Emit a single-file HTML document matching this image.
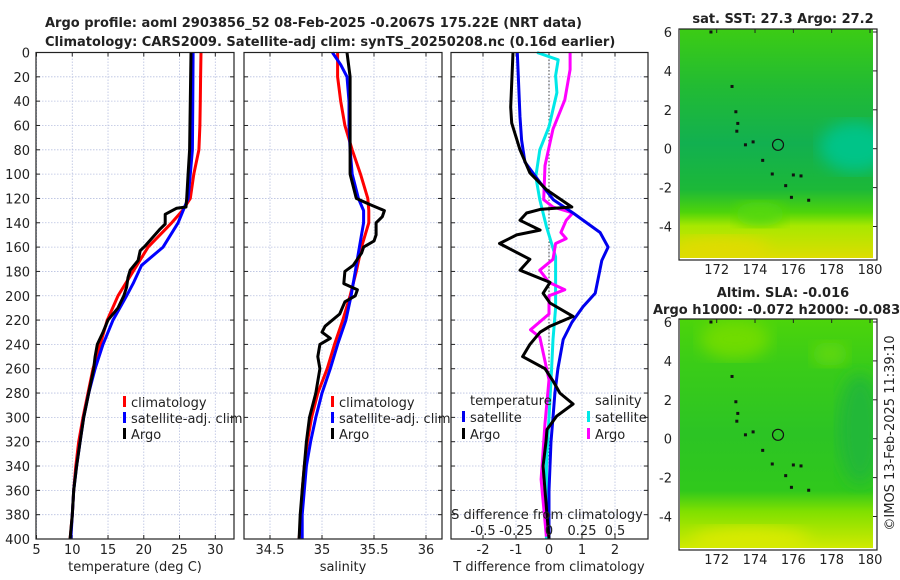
<!DOCTYPE html>
<html><head><meta charset="utf-8"><style>
body{margin:0;background:#fff;}
svg{display:block;font-family:"DejaVu Sans","Liberation Sans",sans-serif;}
</style></head><body>
<svg id="c" width="900" height="580" viewBox="0 0 900 580">
<defs>
<linearGradient id="sstg" x1="0" y1="0" x2="0" y2="1">
<stop offset="0" stop-color="#3ccc14"/><stop offset="0.25" stop-color="#22bb33"/><stop offset="0.5" stop-color="#12b050"/><stop offset="0.7" stop-color="#1cb838"/><stop offset="0.8" stop-color="#4ed40a"/><stop offset="0.86" stop-color="#a8e800"/><stop offset="1" stop-color="#dddd00"/>
</linearGradient>
<linearGradient id="slag" x1="0" y1="0" x2="0" y2="1">
<stop offset="0" stop-color="#4cd40a"/><stop offset="0.2" stop-color="#3acc18"/><stop offset="0.5" stop-color="#2cc424"/><stop offset="0.75" stop-color="#30c81c"/><stop offset="0.84" stop-color="#80e000"/><stop offset="1" stop-color="#d0ea00"/>
</linearGradient>
<filter id="bl"><feGaussianBlur stdDeviation="8"/></filter>
<clipPath id="m1"><rect x="680" y="29" width="193" height="229"/></clipPath>
<clipPath id="m2"><rect x="680" y="319" width="193" height="229"/></clipPath>
</defs>
<g id="g"></g>
</svg>
<script>
// ---------- data ----------
const climDepth=[0,20,40,60,80,100,120,130,140,160,180,200,220,240,260,280,300,320,340,360,380,400];
const climT=[28.0,27.95,27.9,27.85,27.7,27.0,26.5,25.4,23.9,20.6,18.5,16.4,14.9,13.9,12.9,12.2,11.5,10.9,10.5,10.2,10.0,9.7];
const satDepth=[0,40,80,100,120,140,160,175,190,200,220,240,260,280,300,320,340,360,380,400];
const satT=[26.9,26.85,26.8,26.5,26.2,24.8,22.7,19.7,18.5,17.6,15.7,14.3,13.2,12.3,11.6,11.1,10.6,10.2,10.0,9.8];
const argoDepth=[0,40,80,100,120,127,128,133,141,145,153,159,163,171,179,185,193,200,210,220,230,240,250,260,280,300,320,340,360,380,400];
const argoT=[26.6,26.5,26.4,26.2,26.0,25.9,24.6,23.0,23.0,22.3,21.1,20.2,19.5,19.2,18.1,17.8,17.6,17.2,16.4,15.0,14.3,13.5,13.2,13.0,12.3,11.6,11.1,10.6,10.2,10.0,9.7];
const climS=[35.15,35.15,35.18,35.22,35.29,35.37,35.44,35.45,35.45,35.38,35.33,35.27,35.2,35.12,35.05,34.96,34.9,34.86,34.83,34.81,34.8,34.78];
const satSDepth=[0,10,20,40,60,80,100,120,130,140,160,180,200,220,240,260,280,300,320,340,360,380,400];
const satS=[35.1,35.18,35.24,35.26,35.26,35.27,35.29,35.35,35.4,35.4,35.36,35.32,35.28,35.23,35.15,35.08,35.0,34.94,34.89,34.85,34.83,34.81,34.81];
const argoSDepth=[0,20,60,100,120,125,130,135,140,150,155,160,165,175,180,190,195,200,205,215,225,230,235,240,250,260,280,300,320,340,360,380,400];
const argoS=[35.24,35.27,35.27,35.27,35.33,35.46,35.6,35.58,35.52,35.52,35.5,35.4,35.38,35.3,35.22,35.21,35.34,35.32,35.22,35.17,35.03,35.0,35.08,34.98,34.96,34.98,34.94,34.88,34.85,34.83,34.81,34.79,34.78];
const dTsatDepth=[0,53,72,90,107,121,132,148,160,171,198,209,222,236,260,280,300,320,340,360,400];
const dTsat=[-0.96,-0.88,-0.83,-0.73,-0.27,0.13,0.73,1.55,1.79,1.6,1.4,1.03,0.69,0.43,0.27,0.18,0.12,0.06,0.03,0.0,0.0];
const dTargoDepth=[0,45,58,80,99,113,127,129,132,138,146,150,157,170,179,189,198,206,217,225,230,240,250,260,270,280,289,299,310,320,340,360,380,400];
const dTargo=[-1.09,-1.16,-1.13,-0.88,-0.58,-0.07,0.69,-0.27,-0.68,-0.88,-0.27,-0.98,-1.5,-0.58,-0.88,0.03,-0.18,0.03,0.73,0.03,-0.27,-0.58,-0.8,-0.12,0.12,0.33,0.73,0.23,-0.06,-0.09,-0.18,-0.12,-0.06,0.0];
const dSsatDepth=[0,6,19,33,61,80,102,121,143,168,210,236,260,300,340,400];
const dSsat=[-0.09,0.07,0.05,0.06,0.0,-0.07,-0.1,-0.07,-0.02,0.05,0.05,0.03,0.02,0.0,-0.02,-0.02];
const dSargoDepth=[0,14,39,63,93,121,127,132,138,148,153,157,170,179,189,195,200,215,228,234,269,305,351,398];
const dSargo=[0.16,0.16,0.12,0.03,-0.03,-0.04,0.03,0.18,0.13,0.09,0.13,0.05,0.03,-0.07,0.0,0.12,0.0,0.0,-0.14,-0.07,0.0,-0.03,-0.06,-0.02];
const depthTicks=[0,20,40,60,80,100,120,140,160,180,200,220,240,260,280,300,320,340,360,380,400];
const tTicks=[5,10,15,20,25,30];
const sTicks=[34.5,35,35.5,36];
const dTTicks=[-2,-1,0,1,2];
const dSTicks=[-0.5,-0.25,0,0.25,0.5];
const latTicks=[6,4,2,0,-2,-4];
const lonTicks=[172,174,176,178,180];

// ---------- helpers ----------
const NS='http://www.w3.org/2000/svg';
const G=document.getElementById('g');
function mk(tag,attrs,parent){const e=document.createElementNS(NS,tag);for(const k in attrs)e.setAttribute(k,attrs[k]);(parent||G).appendChild(e);return e;}
function txt(x,y,s,size,anchor,weight,parent){const t=mk('text',{x:x,y:y,'font-size':size,'text-anchor':anchor||'start','font-weight':weight||'normal',fill:'#222'},parent);t.textContent=s;return t;}
const Y0=52.5,Y1=539;
const yD=d=>Y0+(Y1-Y0)*d/400;
function lin(a,b,p,q){return v=>p+(v-a)*(q-p)/(b-a);}
const xT=lin(5,30,36.5,215.3);
const xS=lin(34.5,36,270,426);
const xdT=lin(-3,3,450,648);
const xdS=lin(-0.75,0.75,450,648);

function panel(x0,x1,name,xs,ticks,showY){
  const p=mk('g',{});
  
  
  ticks.forEach(v=>{mk('line',{x1:xs(v),x2:xs(v),y1:Y0,y2:Y1,stroke:'#b8c0e0','stroke-width':0.8,'stroke-dasharray':'1.5,1.5'},p);});
  depthTicks.forEach(d=>{mk('line',{x1:x0,x2:x1,y1:yD(d),y2:yD(d),stroke:'#b8c0e0','stroke-width':0.8,'stroke-dasharray':'1.5,1.5'},p);
    mk('line',{x1:x0,x2:x0+4,y1:yD(d),y2:yD(d),stroke:'#222'},p);mk('line',{x1:x1-4,x2:x1,y1:yD(d),y2:yD(d),stroke:'#222'},p);
    if(showY){const t=txt(30,yD(d)+5,String(d),13,'end',null,p);}});
  ticks.forEach(v=>{mk('line',{x1:xs(v),x2:xs(v),y1:Y0,y2:Y0+4,stroke:'#222'},p);mk('line',{x1:xs(v),x2:xs(v),y1:Y1-4,y2:Y1,stroke:'#222'},p);});
  return p;
}
function series(xs,depths,vals,color,name,w){
  const pts=depths.map((d,i)=>xs(vals[i]).toFixed(1)+','+yD(d).toFixed(1)).join(' ');
  const e=mk('polyline',{points:pts,fill:'none',stroke:color,'stroke-width':w||3,'stroke-linejoin':'round'});
  
  
  return e;
}
function frame(x0,x1){mk('rect',{x:x0,y:Y0,width:x1-x0,height:Y1-Y0,fill:'none',stroke:'#222','stroke-width':1.2});}
function legItem(x,y,color,label,name){
  const g=mk('g',{});
  
  
  mk('rect',{x:x,y:y-11,width:3,height:11,fill:color},g);
  txt(x+8,y,label,13,'start',null,g);
}

// ---------- titles ----------
let t=txt(45,27,'Argo profile: aoml 2903856_52 08-Feb-2025 -0.2067S 175.22E (NRT data)',13,'start','bold');

t=txt(45,46,'Climatology: CARS2009. Satellite-adj clim: synTS_20250208.nc (0.16d earlier)',13,'start','bold');


// ---------- panel 1 ----------
panel(36,234,'temperature-panel',xT,tTicks,true);
series(xT,climDepth,climT,'#ff0000','climatology-temperature-line');
series(xT,satDepth,satT,'#0000ff','satellite-temperature-line');
series(xT,argoDepth,argoT,'#000000','argo-temperature-line');
frame(36,234);
tTicks.forEach(v=>{const e=txt(xT(v),554,String(v),13,'middle');});
t=txt(135,571,'temperature (deg C)',13,'middle');
legItem(123,407,'#ff0000','climatology','legend-entry-climatology');
legItem(123,423,'#0000ff','satellite-adj. clim','legend-entry-satellite');
legItem(123,439,'#000000','Argo','legend-entry-argo');

// ---------- panel 2 ----------
panel(244,442,'salinity-panel',xS,sTicks,false);
series(xS,climDepth,climS,'#ff0000','climatology-salinity-line');
series(xS,satSDepth,satS,'#0000ff','satellite-salinity-line');
series(xS,argoSDepth,argoS,'#000000','argo-salinity-line');
frame(244,442);
sTicks.forEach(v=>{const e=txt(xS(v),554,String(v),13,'middle');});
t=txt(343,571,'salinity',13,'middle');
legItem(331,407,'#ff0000','climatology','legend-entry-climatology');
legItem(331,423,'#0000ff','satellite-adj. clim','legend-entry-satellite');
legItem(331,439,'#000000','Argo','legend-entry-argo');

// ---------- panel 3 ----------
panel(451,648,'difference-panel',xdT,dTTicks,false);
mk('line',{x1:xdT(0),x2:xdT(0),y1:Y0,y2:Y1,stroke:'#444','stroke-width':1,'stroke-dasharray':'1.5,2'});
series(xdS,dSsatDepth,dSsat,'#00e8e8','satellite-salinity-diff-line');
series(xdS,dSargoDepth,dSargo,'#ff00ff','argo-salinity-diff-line');
series(xdT,dTsatDepth,dTsat,'#0000ee','satellite-temperature-diff-line');
series(xdT,dTargoDepth,dTargo,'#000000','argo-temperature-diff-line');
frame(451,648);
dTTicks.forEach(v=>{const e=txt(xdT(v),554,String(v),13,'middle');});
t=txt(549,571,'T difference from climatology',13,'middle');
t=txt(547,519,'S difference from climatology',13,'middle');
dSTicks.forEach(v=>{const e=txt(xdS(v),535,String(v),13,'middle');});
t=txt(470,405,'temperature',13);
t=txt(595,405,'salinity',13);
legItem(462,422,'#0000ee','satellite','legend-entry-t-satellite');
legItem(462,439,'#000000','Argo','legend-entry-t-argo');
legItem(587,422,'#00e8e8','satellite','legend-entry-s-satellite');
legItem(587,439,'#ff00ff','Argo','legend-entry-s-argo');

// ---------- maps ----------
const xLon=lin(172,180,716.7,870);
function map(top,clip,grad,name,extra){
  const g=mk('g',{});
  
  
  const yLat=lin(0,6,top+119.7,top+3);
  const c=mk('g',{'clip-path':'url(#'+clip+')'},g);
  mk('rect',{x:680,y:top,width:193,height:229,fill:'url(#'+grad+')'},c);
  extra(c,top);
  [[172.8,3.2],[173,1.9],[173.1,1.3],[173.05,0.9],[173.5,0.2],[173.9,0.35],[174.4,-0.6],[174.9,-1.3],[175.6,-1.9],[176,-1.35],[176.4,-1.4],[175.9,-2.5],[176.8,-2.65],[171.7,6]].forEach(p=>{
    mk('rect',{x:xLon(p[0])-1.5,y:yLat(p[1])-1.5,width:3,height:3,fill:'#111'},c);});
  mk('circle',{cx:xLon(175.2),cy:yLat(0.2),r:5.5,fill:'none',stroke:'#111','stroke-width':1.2},g);
  mk('rect',{x:679,y:top,width:198,height:231,fill:'none',stroke:'#222','stroke-width':1.2},g);
  latTicks.forEach(v=>{const y=yLat(v);mk('line',{x1:877,x2:873,y1:y,y2:y,stroke:'#222'},g);
    const e=txt(672,y+5,String(v),13,'end',null,g);});
  lonTicks.forEach(v=>{const x=xLon(v);mk('line',{x1:x,x2:x,y1:top,y2:top+4,stroke:'#222'},g);
    const e=txt(x,top+245,String(v),13,'middle',null,g);});
}
map(29,'m1','sstg','sst-map',(c,top)=>{
  mk('ellipse',{cx:855,cy:top+118,rx:35,ry:25,fill:'#00c488',filter:'url(#bl)'},c);
  mk('ellipse',{cx:760,cy:top+185,rx:25,ry:12,fill:'#55d810',filter:'url(#bl)'},c);
  mk('ellipse',{cx:720,cy:top+222,rx:50,ry:14,fill:'#e0dc00',filter:'url(#bl)'},c);
});
map(319,'m2','slag','sla-map',(c,top)=>{
  mk('ellipse',{cx:735,cy:top+20,rx:35,ry:20,fill:'#70dc00',filter:'url(#bl)'},c);
  mk('ellipse',{cx:830,cy:top+35,rx:18,ry:12,fill:'#60d808',filter:'url(#bl)'},c);
  mk('ellipse',{cx:860,cy:top+110,rx:22,ry:55,fill:'#22b838',filter:'url(#bl)'},c);
  mk('ellipse',{cx:750,cy:top+222,rx:60,ry:14,fill:'#d8ea00',filter:'url(#bl)'},c);
});
t=txt(783,23,'sat. SST: 27.3 Argo: 27.2',13,'middle','bold');
t=txt(783,297,'Altim. SLA: -0.016',13,'middle','bold');
t=txt(653,314,'Argo h1000: -0.072 h2000: -0.083',13,'start','bold');
t=txt(0,0,'©IMOS 13-Feb-2025 11:39:10',13,'middle');
t.setAttribute('transform','translate(894,433) rotate(-90)');

</script>
</body></html>
